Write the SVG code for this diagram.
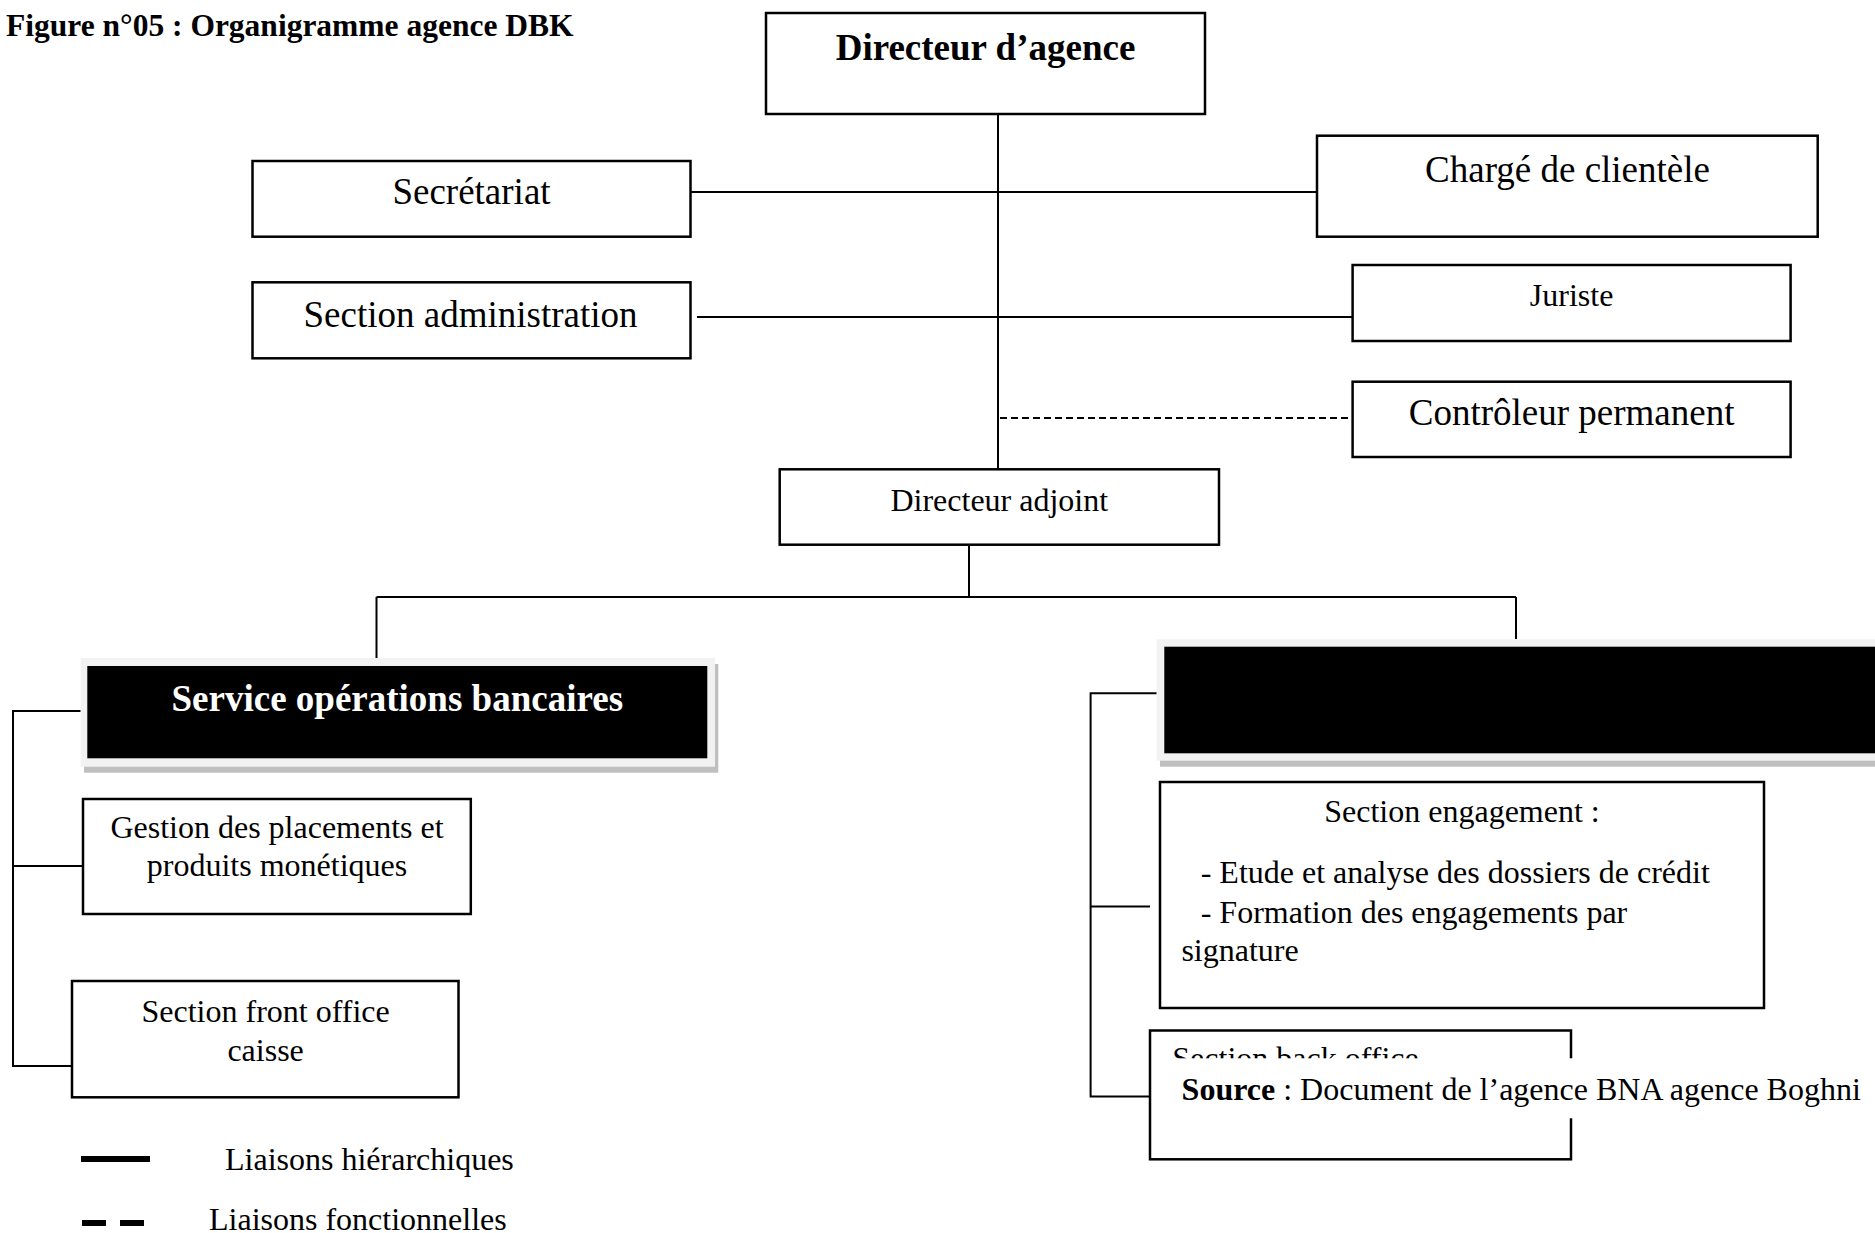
<svg xmlns="http://www.w3.org/2000/svg" width="1875" height="1233" viewBox="0 0 1875 1233">
<style>
  text { font-family: "Liberation Serif", "Times New Roman", serif; fill: #000; }
  .box { fill: #fff; stroke: #000; stroke-width: 2.5; }
  .lg { font-size: 37px; }
  .sm { font-size: 32px; }
  .b { font-weight: bold; }
  .c { text-anchor: middle; }
  .ln { stroke: #000; stroke-width: 2; fill: none; }
  .dash { stroke-dasharray: 7 4; }
  .frame { fill: #f2f2f2; }
  .shadow { fill: #bfbfbf; }
  .dark { fill: #000; }
  .wt { fill: #fff; }
</style>
<rect width="1875" height="1233" fill="#fff"/>

<text id="title" x="6" y="36" class="b" font-size="31.5">Figure n°05 : Organigramme agence DBK</text>

<g id="connectors">
  <path class="ln" d="M998 114 V469"/>
  <path class="ln" d="M691 192 H1317"/>
  <path class="ln" d="M697 317 H1352.6"/>
  <path class="ln dash" d="M1000 418 H1352.6"/>
  <path class="ln" d="M969 545 V597"/>
  <path class="ln" d="M376.5 597 H1516 M376.5 597 V658 M1516 597 V639"/>
  <path class="ln" d="M80.7 711 H13 V1066 H72 M13 866 H83"/>
  <path class="ln" d="M1156.7 693.3 H1090.6 V1096.6 H1150 M1090.6 906.5 H1150"/>
</g>

<g id="directeur-agence">
  <rect class="box" x="766" y="13" width="439" height="101"/>
  <text class="lg b c" x="985.5" y="60">Directeur d’agence</text>
</g>

<g id="secretariat">
  <rect class="box" x="252.5" y="161" width="438" height="75.7"/>
  <text class="lg c" x="471.5" y="204">Secrétariat</text>
</g>

<g id="charge-clientele">
  <rect class="box" x="1317" y="135.7" width="500.7" height="101"/>
  <text class="lg c" x="1567.5" y="181.7">Chargé de clientèle</text>
</g>

<g id="section-administration">
  <rect class="box" x="252.5" y="282.3" width="438" height="76"/>
  <text class="lg c" x="470.5" y="326.5">Section administration</text>
</g>

<g id="juriste">
  <rect class="box" x="1352.6" y="265" width="438" height="76"/>
  <text class="sm c" x="1571.6" y="305.5">Juriste</text>
</g>

<g id="controleur-permanent">
  <rect class="box" x="1352.6" y="381.7" width="438" height="75.3"/>
  <text class="lg c" x="1571.6" y="425">Contrôleur permanent</text>
</g>

<g id="directeur-adjoint">
  <rect class="box" x="779.7" y="469.3" width="439.3" height="75.4"/>
  <text class="sm c" x="999.3" y="510.5">Directeur adjoint</text>
</g>

<g id="service-operations-bancaires">
  <rect class="shadow" x="84" y="664" width="634.3" height="108.7"/>
  <rect class="frame" x="80.7" y="658" width="634.3" height="108.7"/>
  <rect class="dark" x="87.3" y="666" width="620" height="92.3"/>
  <text class="lg b c" x="397.3" y="710.7" fill="#fff" style="fill:#fff">Service opérations bancaires</text>
</g>

<g id="service-droite">
  <rect class="shadow" x="1160" y="645" width="720" height="121.7"/>
  <rect class="frame" x="1156.7" y="639.3" width="720" height="121.4"/>
  <rect class="dark" x="1164.3" y="646.7" width="720" height="106.6"/>
</g>

<g id="gestion-placements">
  <rect class="box" x="83" y="799" width="387.8" height="115"/>
  <text class="sm c" x="277" y="838.3">Gestion des placements et</text>
  <text class="sm c" x="277" y="875.5">produits monétiques</text>
</g>

<g id="section-front-office">
  <rect class="box" x="72" y="981" width="386.5" height="116.3"/>
  <text class="sm c" x="265.6" y="1021.5">Section front office</text>
  <text class="sm c" x="265.6" y="1061">caisse</text>
</g>

<g id="section-engagement">
  <rect class="box" x="1160" y="782" width="604" height="226"/>
  <text class="sm c" x="1462" y="821.8">Section engagement :</text>
  <text class="sm" x="1200.7" y="883.3">- Etude et analyse des dossiers de crédit</text>
  <text class="sm" x="1200.7" y="922.6">- Formation des engagements par</text>
  <text class="sm" x="1181.4" y="961.3">signature</text>
</g>

<g id="section-back-office">
  <rect class="box" x="1150" y="1030.5" width="421" height="128.8"/>
  <text class="sm" x="1172.3" y="1068.5">Section back office</text>
</g>

<g id="source">
  <rect class="wt" x="1152.5" y="1058.3" width="722.5" height="60"/>
  <text class="sm" x="1181.6" y="1099.5"><tspan class="b">Source</tspan> : Document de l’agence BNA agence Boghni</text>
</g>

<g id="legend">
  <path d="M81 1159 H150" stroke="#000" stroke-width="6"/>
  <text class="sm" x="225" y="1169.5">Liaisons hiérarchiques</text>
  <path d="M82 1223 H106 M120 1223 H144" stroke="#000" stroke-width="6"/>
  <text class="sm" x="209" y="1229.5">Liaisons fonctionnelles</text>
</g>
</svg>
